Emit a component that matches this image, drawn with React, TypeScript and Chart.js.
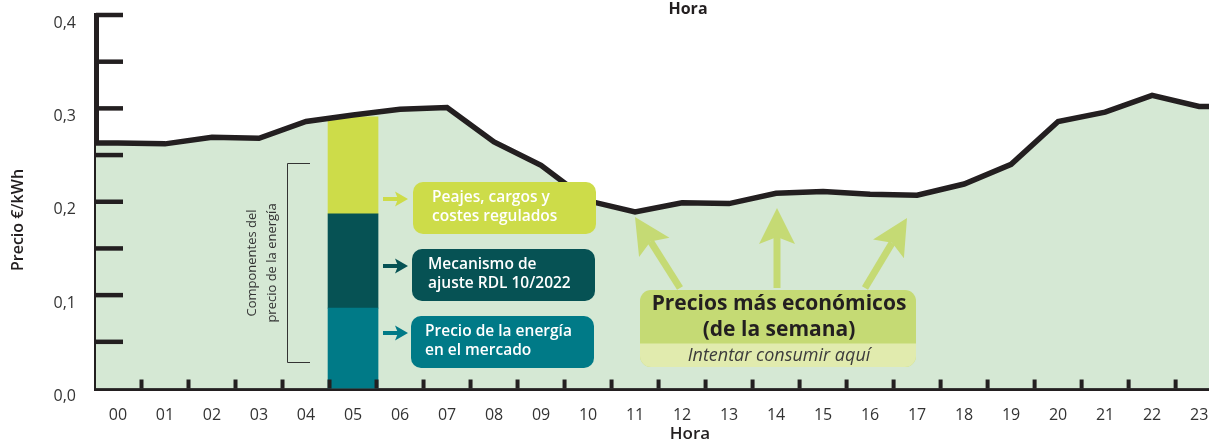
import React, { useEffect, useRef } from 'react';
import { Chart, registerables } from 'chart.js';

Chart.register(...registerables);

// ---------- data ----------
const hours = ['00', '01', '02', '03', '04', '05', '06', '07', '08', '09', '10', '11', '12', '13', '14', '15', '16', '17', '18', '19', '20', '21', '22', '23'];
const precioHora = [0.263, 0.262, 0.269, 0.268, 0.286, 0.293, 0.299, 0.301, 0.264, 0.239, 0.201, 0.189, 0.199, 0.198, 0.209, 0.211, 0.208, 0.207, 0.219, 0.240, 0.286, 0.296, 0.314, 0.302];
const componentHour = '05';
const precioMercado = [0.086];
const mecanismoAjuste = [0.101];
const peajesCargos = [0.104];
const yMin = 0;
const yMax = 0.4;
const yStep = 0.05;
const xMin = -0.468;
const xMax = 23.21;

const INK = '#231F20';
const FILL = '#D5E8D4';
const TEAL = '#007A87';
const DARK = '#065254';
const LIME = '#CDDC49';
const SOFT = '#C5DA74';
const SOFT2 = '#E1EBAE';
const FONT = '"Open Sans", "Noto Sans", sans-serif';

function rrect(ctx: CanvasRenderingContext2D, x: number, y: number, w: number, h: number, r: number | number[]) {
  ctx.beginPath();
  (ctx as any).roundRect(x, y, w, h, r);
}

function arrow(ctx: CanvasRenderingContext2D, x1: number, y1: number, x2: number, y2: number,
  shaft: number, headL: number, headW: number, notch: number, color: string) {
  const a = Math.atan2(y2 - y1, x2 - x1);
  const c = Math.cos(a), s = Math.sin(a);
  const bx = x2 - headL * c, by = y2 - headL * s;
  const nx = -s, ny = c;
  ctx.save();
  ctx.strokeStyle = color;
  ctx.fillStyle = color;
  ctx.lineWidth = shaft;
  ctx.lineCap = 'butt';
  ctx.beginPath();
  ctx.moveTo(x1, y1);
  ctx.lineTo(bx + notch * c, by + notch * s);
  ctx.stroke();
  ctx.beginPath();
  ctx.moveTo(x2, y2);
  ctx.lineTo(bx + nx * headW, by + ny * headW);
  ctx.lineTo(bx + notch * c, by + notch * s);
  ctx.lineTo(bx - nx * headW, by - ny * headW);
  ctx.closePath();
  ctx.fill();
  ctx.restore();
}

const annotPlugin = {
  id: 'annot',
  afterDatasetsDraw(chart: any) {
    const ctx: CanvasRenderingContext2D = chart.ctx;
    const xs = chart.scales.x;
    const ys = chart.scales.y;
    const area = chart.chartArea;
    ctx.save();
    ctx.fillStyle = INK;
    ys.ticks.forEach((t: any) => {
      if (t.value <= yMin + 1e-9) return;
      const py = ys.getPixelForValue(t.value);
      ctx.fillRect(area.left, py - 2.25, 27, 4.5);
    });
    for (let i = 0; i < hours.length - 1; i++) {
      const px = xs.getPixelForValue(i + 0.5);
      ctx.fillRect(px - 2, area.bottom - 9, 4, 9);
    }
    ctx.restore();
  },
  afterDraw(chart: any) {
    const ctx: CanvasRenderingContext2D = chart.ctx;
    ctx.save();

    // axis titles
    ctx.fillStyle = INK;
    ctx.textAlign = 'center';
    ctx.textBaseline = 'middle';
    ctx.font = `700 16px ${FONT}`;
    ctx.fillText('Hora', 688, 9);
    ctx.font = `600 17px ${FONT}`;
    ctx.fillText('Hora', 690, 434);
    ctx.save();
    ctx.translate(18, 220);
    ctx.rotate(-Math.PI / 2);
    ctx.font = `600 16px ${FONT}`;
    ctx.fillText('Precio €/kWh', 0, 0);
    ctx.restore();

    // bracket
    ctx.strokeStyle = '#333333';
    ctx.lineWidth = 1;
    ctx.beginPath();
    ctx.moveTo(310, 163.5);
    ctx.lineTo(287.5, 163.5);
    ctx.lineTo(287.5, 362.5);
    ctx.lineTo(310, 362.5);
    ctx.stroke();
    ctx.save();
    ctx.translate(262, 263);
    ctx.rotate(-Math.PI / 2);
    ctx.fillStyle = '#333333';
    ctx.font = `400 13px ${FONT}`;
    ctx.fillText('Componentes del', 0, -10);
    ctx.fillText('precio de la energía', 0, 10);
    ctx.restore();

    // component boxes
    const boxes = [
      { y: 182, color: LIME, lines: ['Peajes, cargos y', 'costes regulados'], tx: 432 },
      { y: 249, color: DARK, lines: ['Mecanismo de', 'ajuste RDL 10/2022'], tx: 428 },
      { y: 316, color: TEAL, lines: ['Precio de la energía', 'en el mercado'], tx: 425 },
    ];
    boxes.forEach((b, i) => {
      const bx = 413 - i;
      ctx.fillStyle = b.color;
      rrect(ctx, bx, b.y, 183, 52, 10);
      ctx.fill();
      ctx.fillStyle = '#FFFFFF';
      ctx.textAlign = 'left';
      ctx.font = `600 15.5px ${FONT}`;
      ctx.fillText(b.lines[0], b.tx, b.y + 16);
      ctx.fillText(b.lines[1], b.tx, b.y + 35);
      arrow(ctx, 383, b.y + 17, 408, b.y + 17, 4, 13, 7.5, 3, b.color);
    });

    // cheapest box
    ctx.fillStyle = SOFT;
    rrect(ctx, 640, 290, 276, 77, 11);
    ctx.fill();
    ctx.fillStyle = SOFT2;
    rrect(ctx, 640, 343.5, 276, 23.5, [0, 0, 11, 11]);
    ctx.fill();
    ctx.fillStyle = INK;
    ctx.textAlign = 'center';
    ctx.font = `700 21px ${FONT}`;
    ctx.fillText('Precios más económicos', 779, 304);
    ctx.fillText('(de la semana)', 779, 330);
    ctx.fillStyle = '#3C3C3C';
    ctx.font = `italic 400 18px ${FONT}`;
    ctx.fillText('Intentar consumir aquí', 779, 356);

    // big arrows
    arrow(ctx, 680, 288, 635, 217, 7, 36, 18, 7, SOFT);
    arrow(ctx, 777, 288, 777, 208, 7, 36, 18, 7, SOFT);
    arrow(ctx, 865, 288, 907, 218, 7, 36, 18, 7, SOFT);

    ctx.restore();
  },
};

export default function App() {
  const ref = useRef<HTMLCanvasElement | null>(null);

  useEffect(() => {
    if (!ref.current) return;
    const cIdx = hours.indexOf(componentHour);
    const lineData = [
      { x: xMin, y: precioHora[0] },
      ...hours.map((_, i) => ({ x: i, y: precioHora[i] })),
      { x: xMax, y: precioHora[precioHora.length - 1] },
    ];
    const chart = new Chart(ref.current, {
      type: 'line',
      data: {
        datasets: [
          {
            type: 'line',
            label: 'Precio',
            data: lineData,
            stack: 'line',
            borderColor: INK,
            borderWidth: 5.5,
            backgroundColor: FILL,
            fill: 'origin',
            pointRadius: 0,
            tension: 0,
            order: 0,
          } as any,
          {
            type: 'bar',
            label: 'Precio de la energía en el mercado',
            data: precioMercado.map((v) => ({ x: cIdx, y: v })),
            backgroundColor: TEAL,
            stack: 'comp',
            barThickness: 50,
            order: 1,
          },
          {
            type: 'bar',
            label: 'Mecanismo de ajuste RDL 10/2022',
            data: mecanismoAjuste.map((v) => ({ x: cIdx, y: v })),
            backgroundColor: DARK,
            stack: 'comp',
            barThickness: 50,
            order: 1,
          },
          {
            type: 'bar',
            label: 'Peajes, cargos y costes regulados',
            data: peajesCargos.map((v) => ({ x: cIdx, y: v })),
            backgroundColor: LIME,
            stack: 'comp',
            barThickness: 50,
            order: 1,
          },
        ],
      },
      options: {
        animation: false,
        responsive: true,
        maintainAspectRatio: false,
        layout: { padding: { top: 15, left: 0, right: 0, bottom: 0 } },
        plugins: {
          legend: { display: false },
          tooltip: { enabled: false },
          title: { display: false },
          filler: { drawTime: 'beforeDatasetsDraw' },
        } as any,
        scales: {
          x: {
            type: 'linear',
            min: xMin,
            max: xMax,
            offset: false,
            z: 1,
            afterBuildTicks: (s: any) => {
              s.ticks = hours.map((_, i) => ({ value: i }));
            },
            afterFit: (s: any) => {
              s.height = 54.5;
              s.paddingLeft = 0;
              s.paddingRight = 0;
            },
            grid: { display: false, drawTicks: false, offset: false },
            border: { display: true, width: 5, color: INK },
            ticks: {
              autoSkip: false,
              maxRotation: 0,
              padding: 17,
              color: '#333333',
              font: { family: FONT, size: 16 },
              callback: (v: any) => hours[v] ?? '',
            },
          },
          y: {
            type: 'linear',
            min: yMin,
            max: yMax,
            stacked: true,
            z: 1,
            afterFit: (s: any) => {
              s.width = 96;
              s.paddingTop = 0;
              s.paddingBottom = 0;
            },
            grid: { display: false, drawTicks: false },
            border: { display: true, width: 5, color: INK },
            ticks: {
              stepSize: yStep,
              autoSkip: false,
              padding: 20,
              labelOffset: 8,
              color: '#333333',
              font: { family: FONT, size: 16 },
              callback: (v: any) => {
                const n = Number(v);
                return Math.abs(n * 10 - Math.round(n * 10)) < 1e-6 ? n.toFixed(1).replace('.', ',') : '';
              },
            },
          },
        },
      },
      plugins: [annotPlugin],
    });
    return () => chart.destroy();
  }, []);

  return (
    <div style={{ position: 'fixed', left: 0, top: 0, width: 1209, height: 443, background: '#FFFFFF' }}>
      <canvas ref={ref} />
    </div>
  );
}
